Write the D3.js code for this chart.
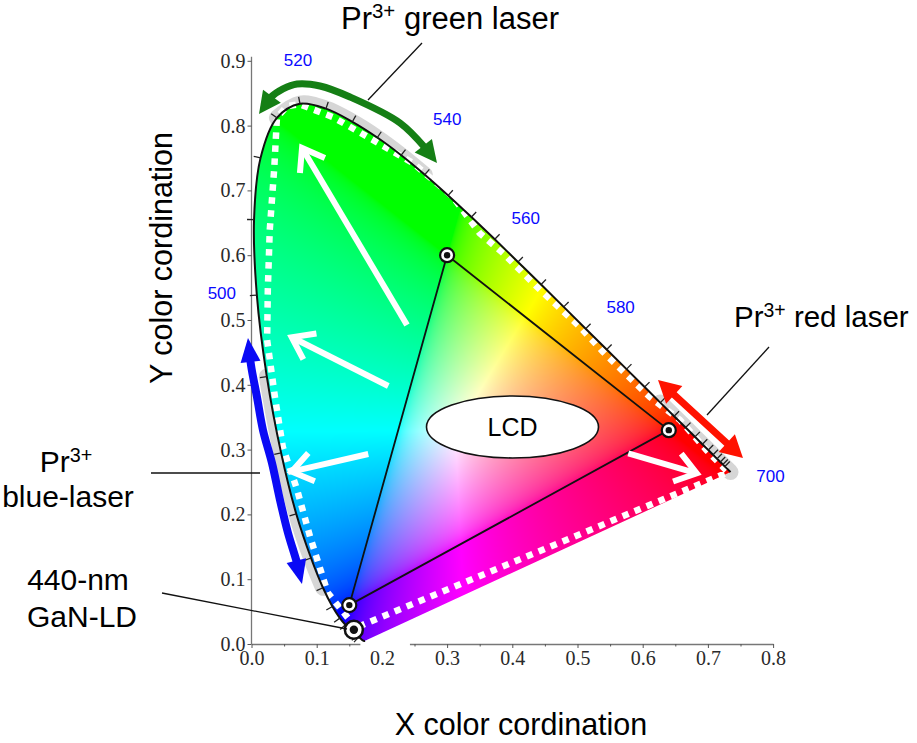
<!DOCTYPE html>
<html>
<head>
<meta charset="utf-8">
<title>CIE chromaticity - Pr3+ lasers</title>
<script src="https://cdnjs.cloudflare.com/ajax/libs/d3/7.8.5/d3.min.js"></script>
<style>
  body { margin: 0; background: #fff; }
  svg { display: block; font-family: "Liberation Sans", Arial, sans-serif; }
</style>
</head>
<body>
<script>
// CIE 1931 spectral locus (nm, x, y)
const wavelengths = [380,400,410,420,430,440,445,450,455,460,465,470,475,480,485,490,495,500,505,510,515,520,525,530,535,540,545,550,555,560,565,570,575,580,585,590,595,600,605,610,615,620,625,630,635,640,645,650,660,680,700];
const locusX = [0.1741,0.1733,0.1726,0.1714,0.1689,0.1644,0.1611,0.1566,0.1510,0.1440,0.1355,0.1241,0.1096,0.0913,0.0687,0.0454,0.0235,0.0082,0.0039,0.0139,0.0389,0.0743,0.1142,0.1547,0.1929,0.2296,0.2658,0.3016,0.3373,0.3731,0.4087,0.4441,0.4788,0.5125,0.5448,0.5752,0.6029,0.6270,0.6482,0.6658,0.6801,0.6915,0.7006,0.7079,0.7140,0.7190,0.7230,0.7260,0.7300,0.7334,0.7347];
const locusY = [0.0050,0.0048,0.0048,0.0051,0.0069,0.0109,0.0138,0.0177,0.0227,0.0297,0.0399,0.0578,0.0868,0.1327,0.2007,0.2950,0.4127,0.5384,0.6548,0.7502,0.8120,0.8338,0.8262,0.8059,0.7816,0.7543,0.7243,0.6923,0.6589,0.6245,0.5896,0.5547,0.5202,0.4866,0.4544,0.4242,0.3965,0.3725,0.3514,0.3340,0.3197,0.3083,0.2993,0.2920,0.2859,0.2809,0.2770,0.2740,0.2700,0.2666,0.2653];

const labelNm = [500, 520, 540, 560, 580, 700];

// axis ticks
const xTicks = [0, 0.1, 0.2, 0.3, 0.4, 0.5, 0.6, 0.7, 0.8];
const xMinor = [0.05, 0.15, 0.25, 0.35, 0.45, 0.55, 0.65, 0.75];
const yTicks = [0, 0.1, 0.2, 0.3, 0.4, 0.5, 0.6, 0.7, 0.8, 0.9];

// LCD gamut (R, G, B) and the 440-nm GaN-LD point
const lcdX = [0.64, 0.30, 0.15];
const lcdY = [0.33, 0.60, 0.06];
const ganX = 0.157, ganY = 0.022;

// laser gamut (white dotted)
const laserX = [0.160,0.117,0.090,0.070,0.048,0.036,0.024,0.025,0.028,0.035,0.039,0.054,0.074,0.125,0.186,0.248,0.309,0.350,0.386,0.438,0.504,0.539,0.611,0.657,0.698,0.731];
const laserY = [0.025,0.079,0.165,0.238,0.304,0.381,0.469,0.546,0.639,0.736,0.812,0.830,0.833,0.813,0.778,0.742,0.690,0.634,0.603,0.551,0.489,0.451,0.381,0.346,0.299,0.265];

// tuning ranges of the Pr3+ lasers
const greenArcX = [0.0115,0.0284,0.0483,0.0698,0.1051,0.1511,0.2278,0.2692,0.2845];
const greenArcY = [0.8179,0.8426,0.8565,0.8642,0.8611,0.8441,0.8040,0.7623,0.7423];
const blueArcX = [-0.0054,-0.0008,0.0084,0.0176,0.0314,0.0437,0.0560,0.0698,0.0774];
const blueArcY = [0.4722,0.4306,0.3812,0.3302,0.2793,0.2222,0.1713,0.1250,0.0926];
const redArcX = [0.6235, 0.7538];
const redArcY = [0.4074, 0.2870];

// white arrows (tail -> tip)
const whiteFromX = [0.2385, 0.2098, 0.1791, 0.5779];
const whiteFromY = [0.4923, 0.3981, 0.2932, 0.2943];
const whiteToX = [0.0775, 0.0617, 0.0617, 0.6828];
const whiteToY = [0.7654, 0.4733, 0.2659, 0.2634];

// LCD ellipse
const lcdEllipse = {cx: 0.4003, cy: 0.3349, rx: 0.1319, ry: 0.0478};

const W = 917, H = 743;
const svg = d3.select("body").append("svg").attr("width", W).attr("height", H);
const x = d3.scaleLinear().domain([0, 0.8]).range([251.5, 773.1]);
const y = d3.scaleLinear().domain([0, 0.9]).range([644, 60.8]);

const locus = wavelengths.map((w, i) => ({w: w, x: locusX[i], y: locusY[i]}));
const line = d3.line().x(d => x(d.x)).y(d => y(d.y)).curve(d3.curveCatmullRom);
const pxLine = d3.line().curve(d3.curveCatmullRom);

// ---- axes
const serif = '"Liberation Serif", "Times New Roman", serif';
svg.append("g").attr("transform", `translate(0,${y(0)})`)
  .call(d3.axisBottom(x).tickValues(xTicks).tickFormat(d3.format(".1f")).tickSize(4).tickSizeOuter(0).tickPadding(3));
svg.append("g").attr("transform", `translate(0,${y(0)})`)
  .call(d3.axisBottom(x).tickValues(xMinor).tickFormat("").tickSize(2.5).tickSizeOuter(0))
  .select(".domain").remove();
const gy = svg.append("g").attr("transform", `translate(${x(0)},0)`)
  .call(d3.axisLeft(y).tickValues(yTicks).tickFormat(d3.format(".1f")).tickSize(4).tickSizeOuter(0).tickPadding(2));
svg.selectAll(".domain").attr("stroke", "#777").attr("stroke-width", 1.3);
svg.selectAll(".tick line").attr("stroke", "#555");
svg.selectAll(".tick text").attr("fill", "#2a2a2a").style("font-family", serif).style("font-size", "20px");
gy.select(".domain").attr("d", `M0,${y(0)}V${y(0.9) - 4}`);

// white patch over the x-axis near the locus corner
svg.append("rect").attr("x", x(0.167)).attr("y", y(0) - 1.5)
  .attr("width", x(0.243) - x(0.167)).attr("height", 6).attr("fill", "#fff");

// ---- grey bands along the locus under the laser ranges
const bands = [[512, 545], [474, 498], [600, 700]];
bands.forEach(b => {
  svg.append("path").attr("d", line(locus.filter(d => d.w >= b[0] && d.w <= b[1])))
    .attr("fill", "none").attr("stroke", "#d6d6d6").attr("stroke-width", 16)
    .attr("stroke-linecap", "round");
});

// ---- chromaticity colour fill
function xyToRgb(cx, cy) {
  const X = cx / cy, Y = 1, Z = (1 - cx - cy) / cy;
  let r = 3.2406 * X - 1.5372 * Y - 0.4986 * Z;
  let g = -0.9689 * X + 1.8758 * Y + 0.0415 * Z;
  let b = 0.0557 * X - 0.2040 * Y + 1.0570 * Z;
  r = Math.max(r, 0); g = Math.max(g, 0); b = Math.max(b, 0);
  const m = Math.max(r, g, b) || 1;
  return [r, g, b].map(v => {
    v = v / m;
    v = v <= 0.0031308 ? 12.92 * v : 1.055 * Math.pow(v, 1 / 2.4) - 0.055;
    return Math.round(255 * v);
  });
}
const canvas = document.createElement("canvas");
canvas.width = W; canvas.height = H;
const ctx = canvas.getContext("2d");
const im = ctx.createImageData(W, H);
for (let py = Math.floor(y(0.86)); py <= Math.ceil(y(0)); py++) {
  const cy = y.invert(py + 0.5);
  if (cy <= 0.002) continue;
  for (let px = Math.floor(x(0)); px <= Math.ceil(x(0.76)); px++) {
    const c = xyToRgb(x.invert(px + 0.5), cy);
    const k = (py * W + px) * 4;
    im.data[k] = c[0]; im.data[k + 1] = c[1]; im.data[k + 2] = c[2]; im.data[k + 3] = 255;
  }
}
ctx.putImageData(im, 0, 0);
svg.append("clipPath").attr("id", "locusClip").append("path").attr("d", line(locus) + "Z");
svg.append("image").attr("href", canvas.toDataURL()).attr("width", W).attr("height", H)
  .attr("clip-path", "url(#locusClip)");

// ---- laser gamut, white dotted
const laserPts = laserX.map((v, i) => [x(v), y(laserY[i])]);
svg.append("path").attr("d", d3.line()(laserPts) + "Z")
  .attr("fill", "none").attr("stroke", "#fff").attr("stroke-width", 6.5)
  .attr("stroke-dasharray", "6.5 6.5");

// ---- LCD triangle
const lcdPts = lcdX.map((v, i) => [x(v), y(lcdY[i])]);
svg.append("path").attr("d", d3.line()(lcdPts) + "Z")
  .attr("fill", "none").attr("stroke", "#111").attr("stroke-width", 1.8);

// ---- locus outline and wavelength ticks
svg.append("path").attr("d", line(locus)).attr("fill", "none")
  .attr("stroke", "#111").attr("stroke-width", 2);
const tickG = svg.append("g").attr("stroke", "#222").attr("stroke-width", 1.3);
locus.forEach((d, i) => {
  if (d.w < 440 || d.w > 650 || i === 0 || i === locus.length - 1) return;
  const a = locus[i - 1], b = locus[i + 1];
  let dx = x(b.x) - x(a.x), dy = y(b.y) - y(a.y);
  const n = Math.hypot(dx, dy); dx /= n; dy /= n;
  const ox = dy, oy = -dx; // outward normal
  tickG.append("line").attr("x1", x(d.x)).attr("y1", y(d.y))
    .attr("x2", x(d.x) + 7 * ox).attr("y2", y(d.y) + 7 * oy);
});

// ---- wavelength labels
const labelOff = {500: [-35, 4], 520: [-2, -38], 540: [46, -30], 560: [31, -15], 580: [35, -16], 700: [40, 10]};
labelNm.forEach(w => {
  const d = locus.find(p => p.w === w);
  svg.append("text").attr("x", x(d.x) + labelOff[w][0]).attr("y", y(d.y) + labelOff[w][1])
    .attr("text-anchor", "middle").attr("fill", "#0a0aff").style("font-size", "17px").text(w);
});

// ---- LCD ellipse
svg.append("ellipse").attr("cx", x(lcdEllipse.cx)).attr("cy", y(lcdEllipse.cy))
  .attr("rx", x(lcdEllipse.rx) - x(0)).attr("ry", y(0) - y(lcdEllipse.ry))
  .attr("fill", "#fff").attr("stroke", "#111").attr("stroke-width", 1.6);
svg.append("text").attr("x", x(lcdEllipse.cx)).attr("y", y(lcdEllipse.cy) + 9)
  .attr("text-anchor", "middle").style("font-size", "25px").text("LCD");

// ---- white arrows
whiteFromX.forEach((v, i) => {
  const t = [x(v), y(whiteFromY[i])], h = [x(whiteToX[i]), y(whiteToY[i])];
  const ang = Math.atan2(t[1] - h[1], t[0] - h[0]);
  const arm = 25, spread = 0.62;
  const g = svg.append("g").attr("stroke", "#fff").attr("stroke-width", 6).attr("fill", "none");
  g.append("line").attr("x1", t[0]).attr("y1", t[1]).attr("x2", h[0]).attr("y2", h[1]);
  g.append("polyline").attr("stroke-linejoin", "miter").attr("points", [
    [h[0] + arm * Math.cos(ang + spread), h[1] + arm * Math.sin(ang + spread)],
    h,
    [h[0] + arm * Math.cos(ang - spread), h[1] + arm * Math.sin(ang - spread)]
  ].map(p => p.join(",")).join(" "));
});

// ---- coloured double arrows
function head(tip, from, len, half, color) {
  const ang = Math.atan2(tip.y - from.y, tip.x - from.x);
  const bx = tip.x - len * Math.cos(ang), by = tip.y - len * Math.sin(ang);
  const nx = -Math.sin(ang), ny = Math.cos(ang);
  svg.append("polygon").attr("fill", color).attr("points",
    [[tip.x, tip.y], [bx + nx * half, by + ny * half], [bx - nx * half, by - ny * half]]
      .map(p => p.join(",")).join(" "));
}
function doubleArrow(xs, ys, color, width, len, half) {
  const pts = xs.map((v, i) => [x(v), y(ys[i])]);
  const p = svg.append("path").attr("d", pxLine(pts)).attr("fill", "none")
    .attr("stroke", color).attr("stroke-width", width);
  const node = p.node(), L = node.getTotalLength(), trim = len * 0.8;
  p.attr("stroke-dasharray", `0 ${trim} ${L - 2 * trim} ${L + 10}`);
  head(node.getPointAtLength(0), node.getPointAtLength(len), len, half, color);
  head(node.getPointAtLength(L), node.getPointAtLength(L - len), len, half, color);
}
doubleArrow(greenArcX, greenArcY, "#157f15", 7, 22, 11);
doubleArrow(blueArcX, blueArcY, "#0a0af5", 8, 24, 10);
doubleArrow(redArcX, redArcY, "#ff1200", 7, 22, 12);

// ---- markers
function marker(cx, cy, r, r0, sw) {
  svg.append("circle").attr("cx", x(cx)).attr("cy", y(cy)).attr("r", r)
    .attr("fill", "#fff").attr("stroke", "#111").attr("stroke-width", sw);
  svg.append("circle").attr("cx", x(cx)).attr("cy", y(cy)).attr("r", r0).attr("fill", "#111");
}
lcdX.forEach((v, i) => marker(v, lcdY[i], 7, 3.2, 2.2));
marker(ganX, ganY, 9, 4.2, 2.5);

// ---- annotations
const leaders = [[[422, 43], [368, 100]], [[769, 347], [707, 415]], [[151, 473], [260, 473]], [[162, 593], [347, 629]]];
leaders.forEach(l => svg.append("line").attr("x1", l[0][0]).attr("y1", l[0][1])
  .attr("x2", l[1][0]).attr("y2", l[1][1]).attr("stroke", "#111").attr("stroke-width", 1.3));

function prLabel(px, py, rest, anchor, size) {
  const t = svg.append("text").attr("x", px).attr("y", py).attr("text-anchor", anchor)
    .style("font-size", size + "px");
  t.append("tspan").text("Pr");
  t.append("tspan").attr("dy", -size * 0.34).style("font-size", (size * 0.66) + "px").text("3+");
  t.append("tspan").attr("dy", size * 0.34).text(rest);
}
prLabel(341, 29, " green laser", "start", 31);
prLabel(734, 327, " red laser", "start", 29.5);
prLabel(66, 472, "", "middle", 30);
svg.append("text").attr("x", 68).attr("y", 507).attr("text-anchor", "middle").style("font-size", "30px").text("blue-laser");
svg.append("text").attr("x", 78).attr("y", 590).attr("text-anchor", "middle").style("font-size", "30px").text("440-nm");
svg.append("text").attr("x", 82).attr("y", 627).attr("text-anchor", "middle").style("font-size", "30px").text("GaN-LD");

// ---- axis titles
svg.append("text").attr("x", 521).attr("y", 735).attr("text-anchor", "middle")
  .style("font-size", "30.5px").text("X color cordination");
svg.append("text").attr("transform", "translate(172,258) rotate(-90)").attr("text-anchor", "middle")
  .style("font-size", "30.5px").text("Y color cordination");
</script>
</body>
</html>
